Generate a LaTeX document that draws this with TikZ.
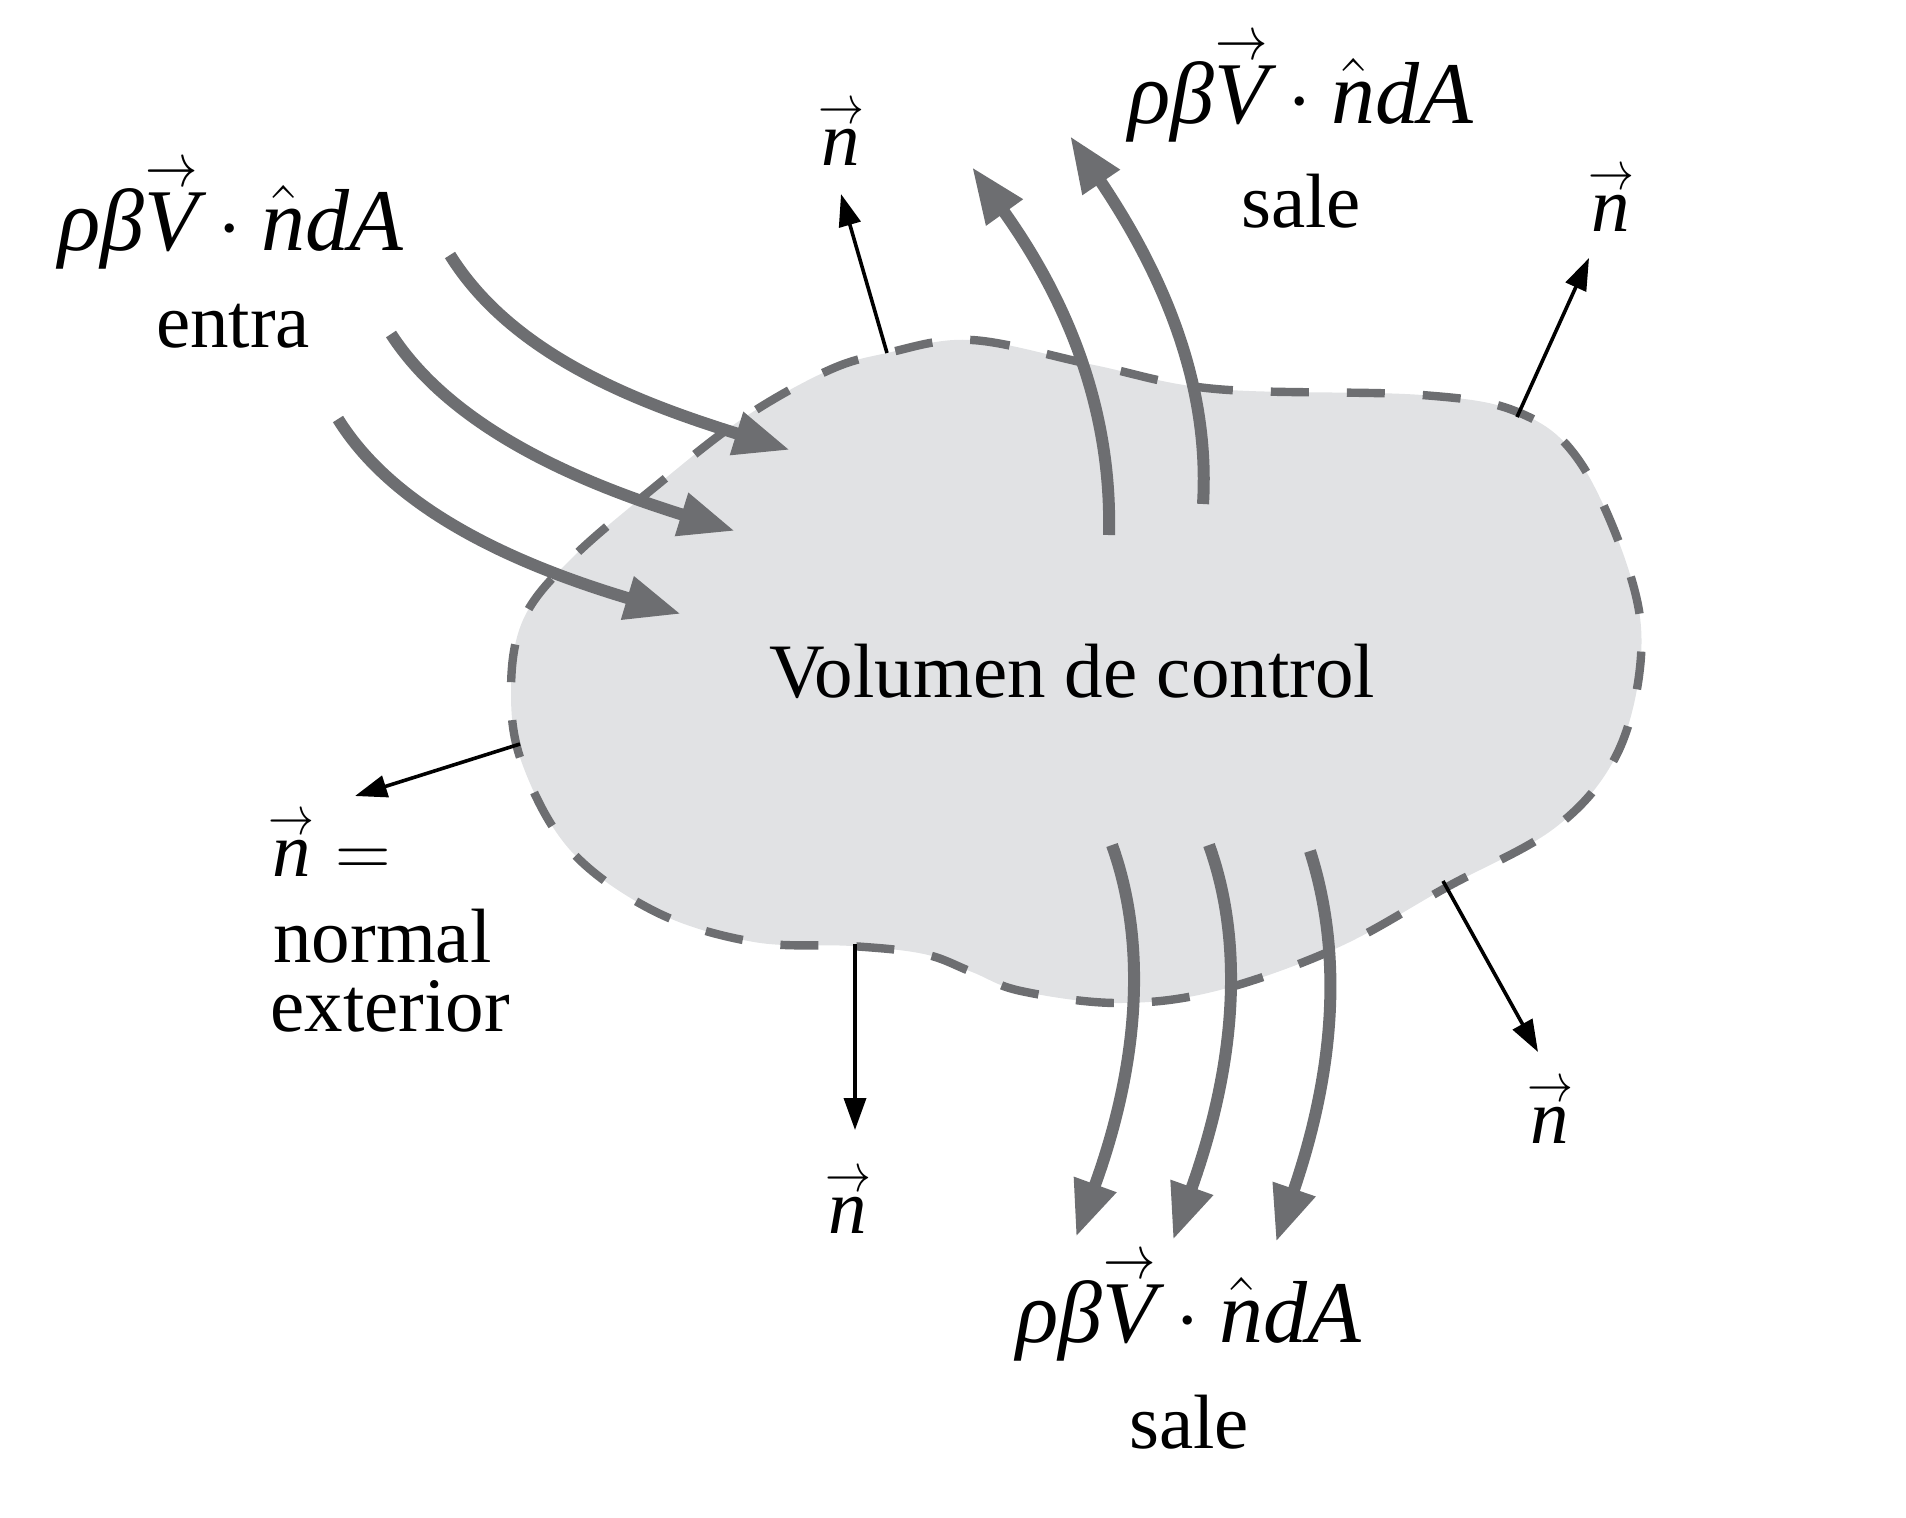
\RequirePackage{fix-cm}
\documentclass[tikz,border=0pt]{standalone}
\usepackage{amsmath}
\usepackage{graphicx}
\usepackage{fontspec}
\setmainfont{Liberation Serif}
\usetikzlibrary{arrows.meta}
\definecolor{blobfill}{HTML}{E1E2E4}
\definecolor{dgray}{HTML}{6D6E71}
\newcommand{\arrowover}[1]{\overset{\raisebox{-0.12em}{\scalebox{0.85}[1]{$\scriptstyle\rightarrow$}}}{#1}}
\newcommand{\fluxexpr}{$\textit{ρβ}\arrowover{\textit{V}}\cdot\hat{\textit{n}}\textit{dA}$}
\newcommand{\nvec}{$\arrowover{\textit{n}}$}
\begin{document}
\begin{tikzpicture}[x=0.5pt,y=-0.5pt,
  flow/.style={draw=dgray, line width=6pt, -{Triangle[length=28pt,width=21pt]}},
  normalarrow/.style={draw=black, line width=1.8pt, -{Triangle[length=16pt,width=11pt]}},
  lbl/.style={font=\fontsize{38.5}{46}\selectfont, inner sep=0pt, align=center},
  flbl/.style={font=\fontsize{44}{50}\selectfont, inner sep=0pt, align=center},
  boundary/.style={draw=dgray, fill=blobfill, line width=4.2pt, dash pattern=on 19pt off 19pt}
  ]
\useasboundingbox (0,0) rectangle (1906,1517);

% control volume
\draw[boundary] plot[smooth cycle, tension=0.6] coordinates {
 (887,353) (972,340) (1094,365) (1216,389) (1422,395) (1520,413) (1580,462)
 (1629,571) (1641,656) (1617,754) (1556,827) (1447,887) (1337,948) (1216,991)
 (1118,1003) (1021,991) (972,972) (924,954) (851,946) (754,942) (656,912)
 (571,851) (523,766) (511,693) (523,620) (571,559) (656,486) (742,419) (827,371)};

\node[lbl] (vc) at (1072,671) {Volumen de control};

% flow arrow endpoints
\coordinate (i1s) at (450,255);  \coordinate (i1e) at (790,450);
\coordinate (i2s) at (391,334);  \coordinate (i2e) at (735,531);
\coordinate (i3s) at (338,419);  \coordinate (i3e) at (681,614);
\coordinate (o1s) at (1109,535); \coordinate (o1e) at (972,167);
\coordinate (o2s) at (1203,504); \coordinate (o2e) at (1070,136);
\coordinate (b1s) at (1112,845); \coordinate (b1e) at (1076,1237);
\coordinate (b2s) at (1209,845); \coordinate (b2e) at (1173,1240);
\coordinate (b3s) at (1310,851); \coordinate (b3e) at (1276,1242);

\draw[flow] (i1s) .. controls (511,353) and (632,401) .. (i1e);
\draw[flow] (i2s) .. controls (450,425) and (571,480) .. (i2e);
\draw[flow] (i3s) .. controls (395,511) and (517,565) .. (i3e);
\draw[flow] (o1s) .. controls (1112,413) and (1070,304) .. (o1e);
\draw[flow] (o2s) .. controls (1210,389) and (1167,280) .. (o2e);
\draw[flow] (b1s) .. controls (1149,948) and (1137,1070) .. (b1e);
\draw[flow] (b2s) .. controls (1246,948) and (1234,1070) .. (b2e);
\draw[flow] (b3s) .. controls (1343,954) and (1335,1070) .. (b3e);

% normals
\coordinate (na) at (887,353);  \coordinate (nae) at (841,194);
\coordinate (nb) at (1517,417); \coordinate (nbe) at (1589,258);
\coordinate (nc) at (520,744);  \coordinate (nce) at (355,796);
\coordinate (nd) at (855,944);  \coordinate (nde) at (855,1130);
\coordinate (ne) at (1443,881); \coordinate (nee) at (1538,1052);
\draw[normalarrow] (na) -- (nae);
\draw[normalarrow] (nb) -- (nbe);
\draw[normalarrow] (nc) -- (nce);
\draw[normalarrow] (nd) -- (nde);
\draw[normalarrow] (ne) -- (nee);

\node[lbl] (la) at (841,132) {\nvec};
\node[lbl] (lb) at (1611,198) {\nvec};
\node[lbl] (ld) at (848,1200) {\nvec};
\node[lbl] (le) at (1550,1110) {\nvec};

\node[lbl, anchor=west] (lc1) at (268,843) {$\arrowover{\textit{n}}=$};
\node[lbl, anchor=west] (lc2) at (273,936) {normal};
\node[lbl, anchor=west] (lc3) at (270,1006) {exterior};

% flux labels
\node[flbl] (fin) at (231,214) {\fluxexpr};
\node[lbl] (fint) at (233,326) {entra};
\node[flbl] (fout1) at (1301,87) {\fluxexpr};
\node[lbl] (fout1t) at (1301,201) {sale};
\node[flbl] (fout2) at (1189,1306) {\fluxexpr};
\node[lbl] (fout2t) at (1189,1422) {sale};
\end{tikzpicture}
\end{document}
